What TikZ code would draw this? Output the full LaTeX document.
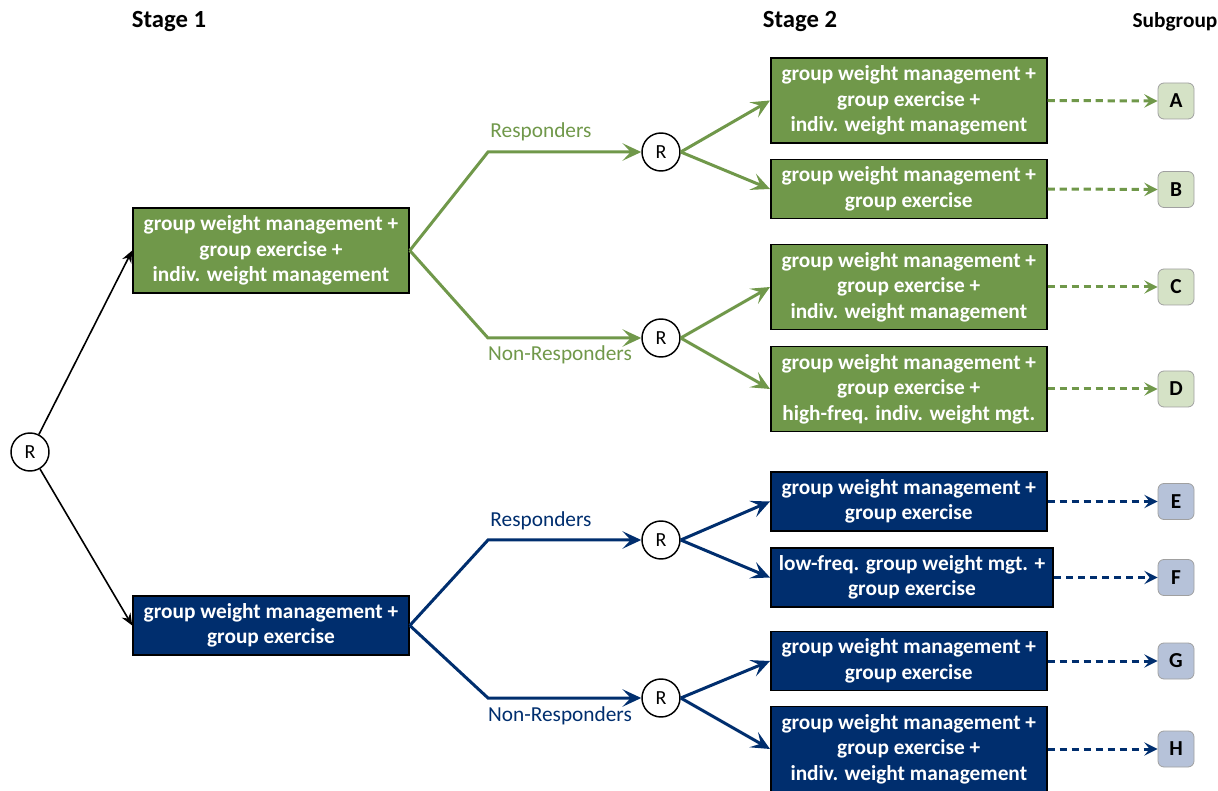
\documentclass[tikz,border=0pt]{standalone}
\usepackage{fontspec}
\setmainfont{Carlito}
\usetikzlibrary{arrows.meta}

\definecolor{trialgreen}{HTML}{70984A}
\definecolor{trialblue}{HTML}{002E6E}
\definecolor{subgreen}{HTML}{D5E2C6}
\definecolor{subblue}{HTML}{B6C2D9}
\definecolor{subedge}{HTML}{A0A0A0}

\begin{document}
\begin{tikzpicture}[x=0.75pt,y=-0.75pt,
  arm/.style={draw=black, line width=1.2pt, minimum width=207pt, inner xsep=6pt,
    inner ysep=0pt, align=center, text=white,
    font=\bfseries\fontsize{16}{19.1}\selectfont},
  twoline/.style={minimum height=44.25pt},
  threeline/.style={minimum height=63.75pt},
  garm/.style={arm, fill=trialgreen},
  barm/.style={arm, fill=trialblue},
  rand/.style={circle, draw=black, fill=white, line width=1.1pt, minimum size=28.5pt,
    inner sep=0pt, font=\fontsize{15}{18}\selectfont},
  subbox/.style={rounded corners=4.5pt, draw=subedge, line width=0.6pt,
    minimum size=27pt, inner sep=0pt, font=\bfseries\fontsize{16}{19}\selectfont},
  header/.style={font=\bfseries\fontsize{18.5}{22}\selectfont},
  branchlabel/.style={font=\fontsize{16}{19}\selectfont},
  firstarrow/.style={draw=black, line width=1.2pt,
    -{Stealth[length=9pt, width=7.5pt, inset=3pt]}},
  branch/.style={line width=2.25pt,
    -{Stealth[length=14pt, width=13pt, inset=6pt]}},
  tosub/.style={line width=2.25pt, dash pattern=on 5.5pt off 3.5pt,
    -{Stealth[length=10pt, width=10pt, inset=4pt]}},
]
\useasboundingbox (0,0) rectangle (1218,791);

% column headers
\node[header] (h1) at (169,22) {Stage 1};
\node[header] (h2) at (800,22) {Stage 2};
\node[header, font=\bfseries\fontsize{16}{19}\selectfont] (h3) at (1175,22) {Subgroup};

% first randomisation and stage 1 arms
\node[rand] (R0) at (30,452) {R};
\node[garm, threeline] (s1g) at (271,250.5)
  {group weight management +\\ group exercise +\\ indiv. weight management};
\node[barm, twoline] (s1b) at (271,625.5)
  {group weight management +\\ group exercise};
\draw[firstarrow] (R0) -- (s1g.west);
\draw[firstarrow] (R0) -- (s1b.west);

% second randomisations
\node[rand] (Rg1) at (661,152) {R};
\node[rand] (Rg2) at (661,338) {R};
\node[rand] (Rb1) at (661,540) {R};
\node[rand] (Rb2) at (661,698) {R};

\coordinate (gup) at (488,152);
\coordinate (gdn) at (488,338);
\coordinate (bup) at (488,540);
\coordinate (bdn) at (488,698);

\draw[branch, draw=trialgreen] (s1g.east) -- (gup) -- (Rg1.west);
\draw[branch, draw=trialgreen] (s1g.east) -- (gdn) -- (Rg2.west);
\draw[branch, draw=trialblue] (s1b.east) -- (bup) -- (Rb1.west);
\draw[branch, draw=trialblue] (s1b.east) -- (bdn) -- (Rb2.west);

\node[branchlabel, text=trialgreen] (lg1) at (541,132) {Responders};
\node[branchlabel, text=trialgreen] (lg2) at (560,355) {Non-Responders};
\node[branchlabel, text=trialblue] (lb1) at (541,521) {Responders};
\node[branchlabel, text=trialblue] (lb2) at (560,716) {Non-Responders};

% stage 2 arms
\node[garm, threeline, anchor=west] (A) at (770,100.5)
  {group weight management +\\ group exercise +\\ indiv. weight management};
\node[garm, twoline, anchor=west] (B) at (770,189)
  {group weight management +\\ group exercise};
\node[garm, threeline, anchor=west] (C) at (770,287)
  {group weight management +\\ group exercise +\\ indiv. weight management};
\node[garm, threeline, anchor=west] (D) at (770,389)
  {group weight management +\\ group exercise +\\ high-freq. indiv. weight mgt.};
\node[barm, twoline, anchor=west] (E) at (770,501.5)
  {group weight management +\\ group exercise};
\node[barm, twoline, anchor=west] (F) at (770,577.5)
  {low-freq. group weight mgt. +\\ group exercise};
\node[barm, twoline, anchor=west] (G) at (770,661)
  {group weight management +\\ group exercise};
\node[barm, threeline, anchor=west] (H) at (770,749)
  {group weight management +\\ group exercise +\\ indiv. weight management};

\draw[branch, draw=trialgreen] (Rg1.east) -- (A.west);
\draw[branch, draw=trialgreen] (Rg1.east) -- (B.west);
\draw[branch, draw=trialgreen] (Rg2.east) -- (C.west);
\draw[branch, draw=trialgreen] (Rg2.east) -- (D.west);
\draw[branch, draw=trialblue] (Rb1.east) -- (E.west);
\draw[branch, draw=trialblue] (Rb1.east) -- (F.west);
\draw[branch, draw=trialblue] (Rb2.east) -- (G.west);
\draw[branch, draw=trialblue] (Rb2.east) -- (H.west);

% subgroups
\foreach \s/\y in {A/101,B/189.5,C/287,D/389}{
  \node[subbox, fill=subgreen] (sub\s) at (1176,\y) {\s};
  \draw[tosub, draw=trialgreen] (\s.east) -- (sub\s.west);
}
\foreach \s/\y in {E/501.5,F/577.5,G/661,H/749}{
  \node[subbox, fill=subblue] (sub\s) at (1176,\y) {\s};
  \draw[tosub, draw=trialblue] (\s.east) -- (sub\s.west);
}
\end{tikzpicture}
\end{document}
